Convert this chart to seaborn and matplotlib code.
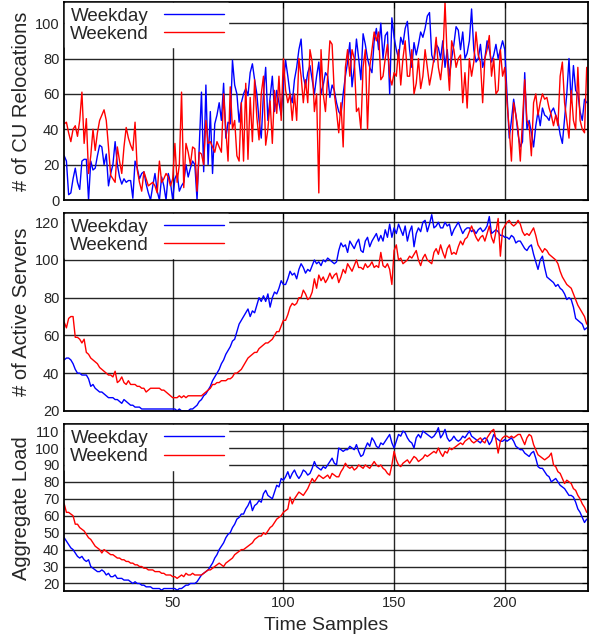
import numpy as np
import pandas as pd
import matplotlib
matplotlib.use("Agg")
import matplotlib.pyplot as plt
import seaborn as sns

# CU relocations
reloc_weekday = [
    25, 22, 3, 4, 12, 18, 10, 6, 22, 23,
    23, 0, 22, 17, 18, 25, 31, 30, 20, 26,
    8, 15, 20, 33, 20, 13, 9, 12, 10, 11,
    11, 1, 22, 18, 12, 15, 16, 9, 4, 0,
    8, 15, 5, 0, 13, 8, 0, 15, 10, 0,
    12, 15, 5, 8, 10, 20, 13, 18, 22, 20,
    0, 30, 61, 16, 65, 20, 50, 15, 43, 48,
    55, 45, 66, 35, 44, 43, 79, 65, 60, 44,
    55, 60, 63, 59, 72, 77, 68, 60, 45, 35,
    60, 75, 45, 58, 70, 50, 62, 55, 48, 65,
    79, 70, 60, 55, 68, 75, 85, 91, 70, 64,
    72, 76, 68, 60, 70, 78, 60, 65, 72, 70,
    58, 65, 62, 55, 50, 48, 60, 70, 78, 89,
    64, 75, 91, 80, 68, 94, 88, 80, 75, 72,
    90, 97, 85, 100, 80, 93, 95, 60, 103, 92,
    85, 80, 92, 88, 97, 101, 85, 75, 89, 82,
    88, 95, 92, 97, 104, 106, 82, 78, 88, 86,
    80, 90, 75, 85, 70, 80, 88, 98, 96, 85,
    95, 80, 83, 90, 108, 85, 78, 80, 88, 75,
    80, 90, 85, 78, 82, 88, 80, 85, 90, 85,
    60, 35, 45, 57, 48, 37, 30, 33, 72, 40,
    45, 38, 30, 42, 50, 42, 52, 48, 47, 45,
    50, 52, 48, 45, 37, 32, 46, 60, 80, 55,
    76, 62, 60, 50, 45, 57, 55,
]
reloc_weekend = [
    43, 44, 38, 33, 40, 42, 36, 45, 61, 32,
    46, 15, 25, 40, 28, 38, 45, 48, 51, 45,
    30, 14, 12, 10, 30, 22, 15, 30, 41, 35,
    31, 28, 44, 17, 10, 5, 16, 12, 8, 9,
    10, 8, 4, 22, 10, 12, 15, 13, 8, 12,
    32, 10, 20, 61, 7, 32, 27, 20, 30, 29,
    5, 27, 26, 20, 45, 32, 33, 30, 27, 33,
    30, 27, 60, 40, 22, 64, 40, 45, 25, 22,
    55, 22, 66, 23, 58, 33, 68, 47, 34, 60,
    70, 31, 40, 56, 32, 62, 49, 70, 45, 80,
    62, 55, 60, 45, 60, 45, 80, 70, 55, 68,
    55, 85, 78, 50, 60, 4, 85, 60, 50, 70,
    90, 88, 60, 50, 38, 55, 30, 75, 85, 70,
    85, 80, 50, 52, 40, 75, 85, 40, 75, 85,
    95, 90, 95, 68, 70, 80, 88, 70, 65, 72,
    70, 85, 65, 80, 90, 70, 70, 85, 60, 66,
    80, 63, 70, 85, 75, 65, 72, 80, 92, 75,
    68, 80, 112, 80, 62, 90, 85, 75, 80, 82,
    55, 72, 52, 80, 70, 78, 95, 82, 78, 55,
    80, 85, 93, 70, 80, 60, 62, 85, 70, 75,
    55, 40, 22, 55, 48, 40, 22, 45, 68, 45,
    42, 25, 55, 60, 48, 55, 60, 57, 58, 52,
    48, 42, 48, 42, 70, 78, 55, 45, 35, 62,
    45, 40, 75, 45, 40, 38, 75,
]

# active servers
servers_weekday = [
    47, 48, 48, 47, 45, 42, 40, 40, 39, 39,
    39, 37, 33, 34, 32, 31, 30, 30, 29, 28,
    27, 27, 27, 26, 26, 25, 24, 26, 25, 24,
    23, 23, 22, 22, 22, 21, 21, 21, 21, 21,
    21, 21, 21, 21, 21, 21, 21, 21, 21, 21,
    21, 20, 21, 20, 20, 20, 20, 21, 21, 22,
    23, 25, 26, 28, 29, 31, 33, 36, 38, 40,
    42, 45, 47, 50, 52, 54, 57, 58, 62, 66,
    68, 70, 72, 74, 70, 73, 72, 76, 80, 78,
    81, 78, 82, 75, 80, 83, 82, 85, 89, 87,
    87, 90, 94, 92, 93, 90, 95, 98, 96, 93,
    95, 94, 97, 100, 98, 99, 97, 100, 99, 101,
    100, 99, 98, 99, 105, 109, 107, 108, 104, 110,
    108, 106, 109, 111, 105, 104, 110, 112, 107, 110,
    112, 114, 110, 113, 110, 116, 112, 119, 112, 117,
    114, 119, 116, 113, 118, 110, 115, 118, 107, 114,
    117, 115, 120, 121, 115, 119, 124, 117, 118, 120,
    117, 117, 120, 118, 119, 113, 116, 118, 120, 117,
    114, 116, 117, 117, 115, 116, 114, 116, 117, 115,
    116, 118, 123, 114, 115, 116, 115, 113, 113, 112,
    112, 111, 113, 112, 109, 110, 110, 108, 106, 105,
    107, 108, 103, 99, 95, 100, 102, 96, 91, 90,
    89, 88, 86, 87, 85, 84, 82, 79, 80, 79,
    75, 69, 68, 67, 66, 63, 64,
]
servers_weekend = [
    67, 64, 69, 70, 70, 59, 59, 58, 56, 58,
    51, 50, 48, 47, 46, 45, 43, 42, 41, 40,
    39, 39, 38, 41, 35, 36, 38, 35, 34, 36,
    34, 34, 34, 33, 33, 32, 32, 30, 31, 32,
    32, 32, 32, 32, 31, 31, 30, 29, 28, 27,
    27, 27, 28, 27, 28, 27, 28, 28, 28, 28,
    28, 28, 28, 29, 30, 31, 32, 34, 34, 35,
    35, 36, 36, 36, 37, 37, 38, 40, 40, 41,
    42, 44, 46, 48, 49, 50, 51, 51, 53, 54,
    55, 56, 56, 57, 58, 60, 62, 62, 65, 68,
    68, 71, 75, 77, 76, 77, 80, 80, 84, 82,
    79, 80, 83, 90, 85, 92, 89, 91, 88, 90,
    93, 90, 92, 93, 88, 91, 95, 93, 98, 96,
    94, 97, 100, 96, 96, 95, 98, 96, 97, 99,
    96, 97, 96, 104, 97, 96, 98, 95, 87, 105,
    108, 100, 101, 98, 99, 100, 102, 101, 103, 105,
    100, 97, 101, 103, 100, 99, 98, 104, 106, 103,
    108, 104, 101, 106, 108, 103, 104, 103, 107, 110,
    108, 111, 112, 115, 118, 115, 112, 110, 112, 113,
    110, 114, 118, 112, 109, 115, 122, 102, 116, 118,
    120, 121, 119, 118, 119, 121, 119, 115, 113, 114,
    113, 115, 117, 113, 108, 106, 104, 106, 105, 103,
    102, 101, 100, 98, 94, 91, 89, 87, 86, 85,
    82, 79, 76, 74, 72, 70, 66,
]

# aggregate load
load_weekday = [
    47, 45, 43, 41, 40, 38, 36, 35, 36, 34,
    33, 34, 30, 29, 28, 27, 27, 28, 27, 25,
    26, 24, 24, 25, 23, 23, 23, 22, 22, 22,
    21, 20, 21, 20, 20, 19, 19, 18, 18, 18,
    17, 17, 17, 17, 16, 17, 17, 17, 17, 17,
    17, 16, 17, 17, 18, 19, 19, 20, 20, 20,
    21, 23, 25, 26, 27, 28, 30, 32, 35, 37,
    40, 42, 44, 47, 49, 50, 53, 55, 58, 59,
    61, 61, 64, 66, 69, 63, 66, 67, 69, 68,
    73, 75, 72, 71, 70, 74, 78, 77, 82, 81,
    83, 86, 82, 85, 87, 84, 82, 84, 87, 86,
    84, 85, 88, 92, 89, 88, 87, 89, 88, 90,
    92, 94, 91, 90, 100, 99, 98, 99, 99, 101,
    100, 99, 102, 98, 95, 96, 100, 103, 101, 106,
    104, 101, 100, 103, 102, 104, 106, 108, 103, 100,
    104, 108, 107, 110, 109, 106, 104, 103, 100, 106,
    108, 106, 110, 109, 108, 107, 106, 107, 109, 112,
    106, 108, 111, 106, 104, 105, 107, 105, 104, 105,
    107, 106, 108, 110, 107, 106, 105, 104, 103, 105,
    106, 105, 102, 104, 108, 106, 105, 104, 104, 105,
    104, 105, 106, 104, 101, 100, 99, 99, 97, 96,
    95, 97, 98, 94, 89, 88, 88, 86, 84, 83,
    80, 81, 82, 80, 78, 77, 76, 74, 72, 72,
    71, 68, 64, 62, 59, 56, 58,
]
load_weekend = [
    67, 62, 62, 61, 60, 55, 55, 53, 52, 51,
    49, 47, 46, 44, 42, 41, 40, 38, 40, 39,
    38, 37, 37, 36, 35, 35, 34, 34, 33, 33,
    32, 32, 31, 31, 30, 30, 29, 29, 28, 28,
    28, 27, 27, 27, 26, 26, 25, 25, 25, 24,
    24, 23, 24, 25, 24, 26, 25, 25, 26, 25,
    25, 25, 25, 26, 27, 28, 28, 29, 30, 31,
    32, 31, 30, 32, 33, 34, 35, 37, 38, 39,
    40, 40, 41, 42, 43, 44, 46, 47, 48, 48,
    50, 49, 51, 53, 54, 56, 58, 59, 60, 62,
    63, 64, 71, 67, 70, 72, 74, 73, 72, 74,
    76, 79, 82, 80, 82, 84, 83, 82, 83, 84,
    82, 85, 84, 83, 83, 86, 88, 91, 89, 88,
    89, 87, 88, 90, 89, 88, 90, 89, 88, 90,
    92, 90, 89, 90, 88, 87, 85, 84, 90, 98,
    93, 90, 89, 91, 92, 93, 91, 93, 95, 94,
    92, 93, 94, 96, 95, 96, 97, 98, 97, 100,
    97, 95, 98, 97, 100, 99, 100, 101, 102, 103,
    102, 104, 105, 106, 104, 103, 104, 105, 106, 104,
    103, 106, 108, 110, 111, 105, 97, 104, 106, 107,
    107, 106, 107, 106, 107, 108, 108, 105, 102, 106,
    108, 107, 102, 99, 96, 95, 94, 93, 94, 95,
    97, 90, 89, 86, 85, 82, 79, 81, 80, 79,
    76, 75, 72, 70, 67, 65, 62,
]

panels = [
    ("# of CU Relocations", reloc_weekday, reloc_weekend, (0, 112), [0, 20, 40, 60, 80, 100]),
    ("# of Active Servers", servers_weekday, servers_weekend, (20, 125), [20, 40, 60, 80, 100, 120]),
    ("Aggregate Load", load_weekday, load_weekend, (15.5, 114), list(range(20, 111, 10))),
]
x_ticks = [50, 100, 150, 200]

sns.set_style("white")
plt.rcParams['font.family'] = ['Liberation Sans', 'DejaVu Sans']

fig = plt.figure(figsize=(5.89, 6.39), dpi=100)
boxes = [
    [0.109, 0.687, 0.889, 0.310],
    [0.109, 0.357, 0.889, 0.310],
    [0.109, 0.075, 0.889, 0.261],
]

for (ylabel, wd, we, ylim, yticks), box in zip(panels, boxes):
    ax = fig.add_axes(box)
    df = pd.DataFrame({
        "t": list(range(1, len(wd) + 1)) + list(range(1, len(we) + 1)),
        "v": wd + we,
        "day": ["Weekday"] * len(wd) + ["Weekend"] * len(we),
    })
    sns.lineplot(data=df, x="t", y="v", hue="day", palette={"Weekday": "#0000ff", "Weekend": "#ff0000"},
                 linewidth=1.0, ax=ax)
    ax.set_xlim(1, 237.5)
    ax.set_ylim(*ylim)
    ax.set_yticks(yticks)
    ax.set_xticks(x_ticks)
    ax.grid(True, color="black", linewidth=1.0, alpha=0.85)
    ax.set_axisbelow(True)
    ax.tick_params(direction="in", top=True, right=True, length=4, labelsize=10.5, color="black")
    for sp in ax.spines.values():
        sp.set_color("black")
        sp.set_linewidth(1.3)
    ax.set_ylabel(ylabel, fontsize=14.5, labelpad=3)
    ax.set_xlabel("")
    if box is not boxes[-1]:
        ax.set_xticklabels([])
    leg = ax.legend(loc="upper left", markerfirst=False, fontsize=13.5, handlelength=3.2,
                    frameon=True, fancybox=False, facecolor="white", edgecolor="white",
                    framealpha=1, borderpad=0.25, labelspacing=0.05, borderaxespad=0.05,
                    handletextpad=0.8)

ax.set_xlabel("Time Samples", fontsize=14, labelpad=5)

fig.savefig("out.png", dpi=100)
